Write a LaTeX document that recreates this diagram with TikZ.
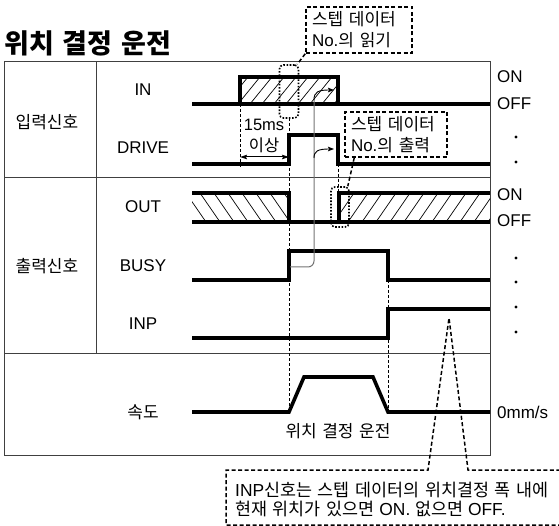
\documentclass[tikz,border=0pt]{standalone}
\usepackage{fontspec}
\setmainfont{Liberation Sans}
\newfontfamily\kr{Noto Sans CJK KR}[WordSpace=1.45]
\usetikzlibrary{arrows.meta}
\newcommand\fsz{\fontsize{17}{21}\selectfont}
\begin{document}
\begin{tikzpicture}[x=1pt,y=-1pt,
  every node/.style={inner sep=0pt, font=\fsz},
  grid/.style={line width=1pt, draw=black!75},
  sig/.style={line width=3.6pt, line join=miter},
  hatch/.style={line width=0.7pt},
  vdash/.style={line width=1pt, dash pattern=on 3pt off 2pt},
  callout/.style={draw, line width=1.5pt, dash pattern=on 4pt off 2.5pt},
  cline/.style={line width=1.5pt, dash pattern=on 4pt off 2.5pt},
  dotbox/.style={draw, line width=1.6pt, dash pattern=on 1.6pt off 1.6pt, rounded corners=4pt},
  tip/.style={-{Stealth[length=6pt,width=4.5pt,inset=1pt]}},
  lbl/.style={anchor=center},
  rl/.style={anchor=west}]
\useasboundingbox (0,0) rectangle (559,526);

% title
\node[anchor=base west, font=\fontsize{27}{30}\selectfont\kr\bfseries] (title) at (4,54) {위치 결정 운전};

% table
\draw[grid] (4,62) rectangle (490,455);
\draw[grid] (96,62) -- (96,353);
\draw[grid] (4,178) -- (490,178);
\draw[grid] (4,353) -- (490,353);

% row labels
\node[lbl] (gin) at (47,122) {\kr 입력신호};
\node[lbl] (gout) at (47,266) {\kr 출력신호};
\node[lbl] (lin) at (143,90) {IN};
\node[lbl] (ldrive) at (143,148) {DRIVE};
\node[lbl] (lout) at (143,207) {OUT};
\node[lbl] (lbusy) at (143,266) {BUSY};
\node[lbl] (linp) at (143,324) {INP};
\node[lbl] (lspeed) at (143,412) {\kr 속도};

% right labels
\node[rl] (on1) at (497,77) {ON};
\node[rl] (off1) at (497,104) {OFF};
\node[rl] (on2) at (497,195) {ON};
\node[rl] (off2) at (497,221) {OFF};
\node[rl] (zero) at (497,412) {0mm/s};
\foreach \yy in {137,162,258,282,307,332} \fill (516,\yy) circle (1.6pt);

% hatching
\begin{scope}
  \clip (240,77) rectangle (338,104);
  \foreach \xx in {214,226,...,346} \draw[hatch] (\xx,104) -- (\xx+22,77);
\end{scope}
\begin{scope}
  \clip (192,193) rectangle (289,222);
  \foreach \xx in {172,186,...,290} \draw[hatch] (\xx,193) -- (\xx+20,222);
\end{scope}
\begin{scope}
  \clip (339,193) rectangle (490,222);
  \foreach \xx in {320,334,...,492} \draw[hatch] (\xx,222) -- (\xx+20,193);
\end{scope}

% dashed timing lines
\draw[vdash] (240,104) -- (240,168);
\draw[vdash] (289,118) -- (289,407);
\draw[vdash] (338,164) -- (338,193);
\draw[vdash] (388,280) -- (388,412);

% 15ms dimension
\coordinate (d1) at (240,157);
\coordinate (d2) at (289,157);
\draw[line width=1pt, {Stealth[length=7pt,width=4.5pt,inset=1pt]}-{Stealth[length=7pt,width=4.5pt,inset=1pt]}] (d1) -- (d2);
\node[lbl, align=center, font=\fontsize{16.5}{21}\selectfont] (ms) at (264,136) {15ms\\{\kr 이상}};

% signals
\draw[sig] (192,104) -- (490,104);
\draw[sig] (240,104) -- (240,77) -- (338,77) -- (338,104);
\draw[sig] (192,164) -- (289,164) -- (289,135) -- (338,135) -- (338,164) -- (490,164);
\draw[sig] (192,193) -- (289,193) -- (289,222);
\draw[sig] (192,222) -- (490,222);
\draw[sig] (339,222) -- (339,193) -- (490,193);
\draw[sig] (192,280) -- (289,280) -- (289,251) -- (388,251) -- (388,280) -- (490,280);
\draw[sig] (192,338) -- (388,338) -- (388,309) -- (490,309);
\draw[sig] (192,412) -- (289,412) -- (304,377) -- (373,377) -- (388,412) -- (490,412);
\node[lbl] (op) at (338,431) {\kr 위치 결정 운전};

% cause arrows
\coordinate (brise) at (290,267);
\coordinate (g1) at (314,100);
\coordinate (g2) at (314,158);
\coordinate (t1) at (334,90);
\coordinate (t2) at (334,149);
\draw[line width=1pt, draw=black!55, rounded corners=6pt] (brise) -- (314,267) -- (g1);
\draw[line width=0.9pt, tip] (g1) .. controls (314,92) and (318,90) .. (t1);
\draw[line width=0.9pt, tip] (g2) .. controls (314,151) and (318,149) .. (t2);

% dotted marks
\node[dotbox, minimum width=19pt, minimum height=53pt] (r1) at (289,91.5) {};
\node[dotbox, minimum width=18pt, minimum height=40pt] (r2) at (340,207) {};

% callouts
\node[callout, minimum width=106pt, minimum height=46pt, text width=94pt, inner xsep=6pt, align=left] (c1) at (359,30) {{\kr 스텝 데이터}\\No.{\kr 의 읽기}};
\draw[cline] (c1.south west) -- ([xshift=-2pt]r1.north east);
\node[callout, minimum width=102pt, minimum height=45pt, text width=90pt, inner xsep=6pt, align=left] (c2) at (396,134.5) {{\kr 스텝 데이터}\\No.{\kr 의 출력}};
\draw[cline] ([xshift=10pt]c2.south west) -- ([xshift=-2pt]r2.north east);

% bottom callout
\coordinate (apex) at (449,318);
\draw[cline] (562,525) -- (226,525) -- (226,470) -- (428,470) -- (apex) -- (468,470) -- (562,470);
\node[anchor=base west, font=\fontsize{17.4}{21}\selectfont] (n1) at (235,496) {INP{\kr 신호는 스텝 데이터의 위치결정 폭 내에}};
\node[anchor=base west, font=\fontsize{17.4}{21}\selectfont] (n2) at (235,515.5) {{\kr 현재 위치가 있으면} ON. {\kr 없으면} OFF.};
\end{tikzpicture}
\end{document}
